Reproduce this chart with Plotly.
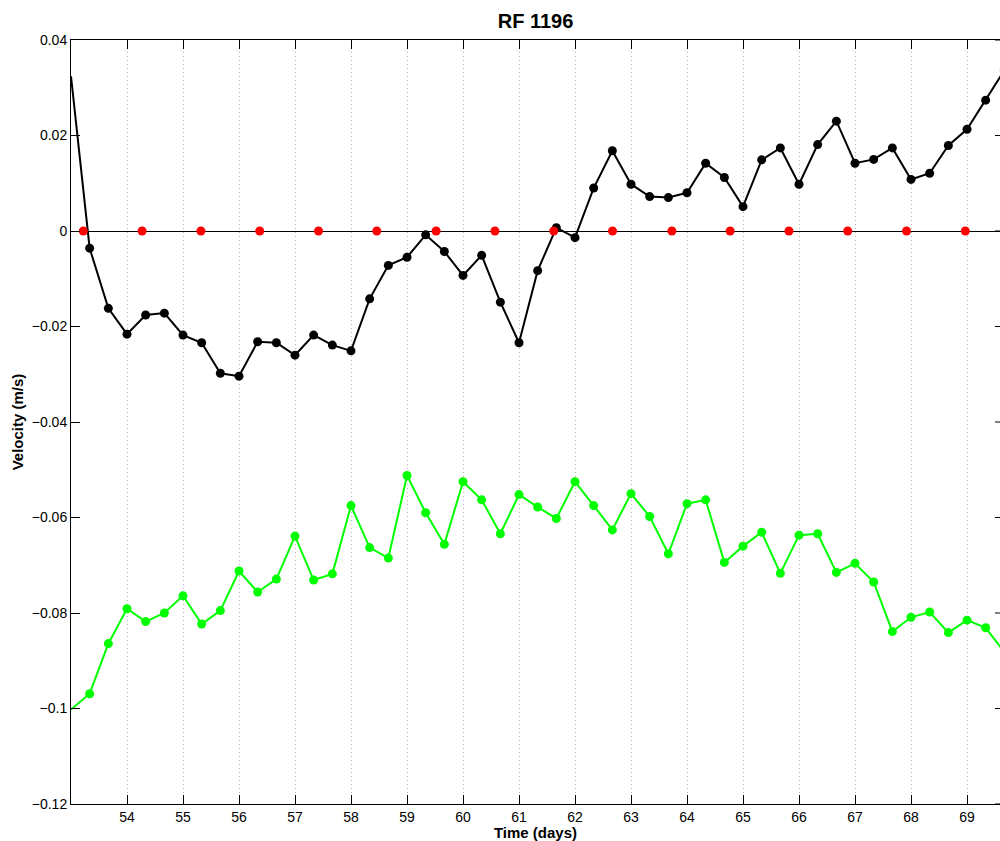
import plotly.graph_objects as go

# Sample times (days), one every 8 hours
time_days = [
    53.0, 53.333, 53.667, 54.0, 54.333, 54.667, 55.0, 55.333, 55.667,
    56.0, 56.333, 56.667, 57.0, 57.333, 57.667, 58.0, 58.333, 58.667,
    59.0, 59.333, 59.667, 60.0, 60.333, 60.667, 61.0, 61.333, 61.667,
    62.0, 62.333, 62.667, 63.0, 63.333, 63.667, 64.0, 64.333, 64.667,
    65.0, 65.333, 65.667, 66.0, 66.333, 66.667, 67.0, 67.333, 67.667,
    68.0, 68.333, 68.667, 69.0, 69.333, 69.667,
]

# Velocity series (m/s)
velocity_black = [
    0.0324, -0.0036, -0.0162, -0.0216, -0.0176, -0.0172, -0.0218, -0.0234, -0.0298,
    -0.0304, -0.0232, -0.0234, -0.0260, -0.0218, -0.0239, -0.0251, -0.0142, -0.0072,
    -0.0055, -0.0008, -0.0043, -0.0093, -0.0051, -0.0149, -0.0234, -0.0083, 0.0007,
    -0.0014, 0.0090, 0.0168, 0.0098, 0.0072, 0.0070, 0.0080, 0.0142, 0.0112,
    0.0051, 0.0149, 0.0174, 0.0098, 0.0181, 0.0230, 0.0142, 0.0150, 0.0174,
    0.0108, 0.0121, 0.0179, 0.0213, 0.0274, 0.0337,
]

velocity_green = [
    -0.1002, -0.0969, -0.0864, -0.0791, -0.0818, -0.0800, -0.0764, -0.0823, -0.0795,
    -0.0712, -0.0756, -0.0729, -0.0639, -0.0731, -0.0718, -0.0575, -0.0663, -0.0685,
    -0.0512, -0.0590, -0.0656, -0.0525, -0.0563, -0.0634, -0.0552, -0.0578, -0.0602,
    -0.0525, -0.0575, -0.0626, -0.0550, -0.0598, -0.0676, -0.0571, -0.0563, -0.0694,
    -0.0660, -0.0631, -0.0717, -0.0637, -0.0634, -0.0715, -0.0696, -0.0735, -0.0839,
    -0.0809, -0.0798, -0.0841, -0.0815, -0.0831, -0.0882,
]

# Reference times marked on the zero line
ref_times = [
    53.22, 54.27, 55.32, 56.37, 57.42, 58.46, 59.52, 60.57,
    61.62, 62.67, 63.73, 64.77, 65.82, 66.87, 67.92, 68.97,
]
ref_values = [0.0] * len(ref_times)

x_ticks = [54, 55, 56, 57, 58, 59, 60, 61, 62, 63, 64, 65, 66, 67, 68, 69]
x_tick_labels = [str(v) for v in x_ticks]
y_ticks = [0.04, 0.02, 0, -0.02, -0.04, -0.06, -0.08, -0.1, -0.12]
y_tick_labels = ["0.04", "0.02", "0", "\u22120.02", "\u22120.04", "\u22120.06",
                 "\u22120.08", "\u22120.1", "\u22120.12"]

x_range = [53.0, 69.589]
y_range = [-0.12, 0.04]

FONT = "Liberation Sans, Arial, Helvetica, sans-serif"
MARKER = 9


def marker_sizes(times, size):
    # points sitting on the left limit are not marked
    return [0 if t <= x_range[0] else size for t in times]


fig = go.Figure()

fig.add_trace(go.Scatter(
    x=time_days, y=velocity_black, mode="lines+markers",
    line=dict(color="black", width=2),
    marker=dict(color="black", size=marker_sizes(time_days, MARKER),
                opacity=1, line=dict(width=0)),
    showlegend=False,
))
fig.add_trace(go.Scatter(
    x=time_days, y=velocity_green, mode="lines+markers",
    line=dict(color="#00ff00", width=2),
    marker=dict(color="#00ff00", size=marker_sizes(time_days, MARKER),
                opacity=1, line=dict(width=0)),
    showlegend=False,
))
fig.add_trace(go.Scatter(
    x=ref_times, y=ref_values, mode="markers",
    marker=dict(color="#ff0000", size=MARKER, opacity=1, line=dict(width=0)),
    showlegend=False,
))

# right-hand y ticks (the right frame edge lies just beyond the page)
shapes = []
for v in y_ticks:
    shapes.append(dict(
        type="line", xref="paper", yref="y",
        xsizemode="pixel", xanchor=1, x0=-5, x1=0,
        y0=v, y1=v, line=dict(color="black", width=1),
    ))

fig.update_layout(
    width=1000, height=841,
    margin=dict(l=71, r=0, t=40, b=37),
    paper_bgcolor="white", plot_bgcolor="white",
    font=dict(family=FONT, color="black", size=14),
    title=dict(
        text="<b>RF 1196</b>", x=0.5355, xanchor="center",
        y=1 - 21 / 841, yanchor="middle", yref="container",
        font=dict(family=FONT, size=20, color="black"),
    ),
    shapes=shapes,
)

fig.update_xaxes(
    range=x_range, tickvals=x_ticks, ticktext=x_tick_labels,
    ticks="inside", ticklen=9, tickwidth=1, tickcolor="black",
    showline=True, linecolor="black", linewidth=1, mirror="ticks",
    showgrid=True, gridcolor="#b4b4b4", gridwidth=1, griddash="1px,3px",
    zeroline=False,
    tickfont=dict(family=FONT, size=14),
    title=dict(text="<b>Time (days)</b>", font=dict(family=FONT, size=15), standoff=0),
)
fig.update_yaxes(
    range=y_range, tickvals=y_ticks, ticktext=y_tick_labels,
    ticks="inside", ticklen=9, tickwidth=1, tickcolor="black",
    showline=True, linecolor="black", linewidth=1, mirror=False,
    showgrid=False,
    zeroline=True, zerolinecolor="black", zerolinewidth=1,
    tickfont=dict(family=FONT, size=14),
    title=dict(text="<b>Velocity (m/s)</b>", font=dict(family=FONT, size=15), standoff=4),
)

fig.write_html("out.html")
